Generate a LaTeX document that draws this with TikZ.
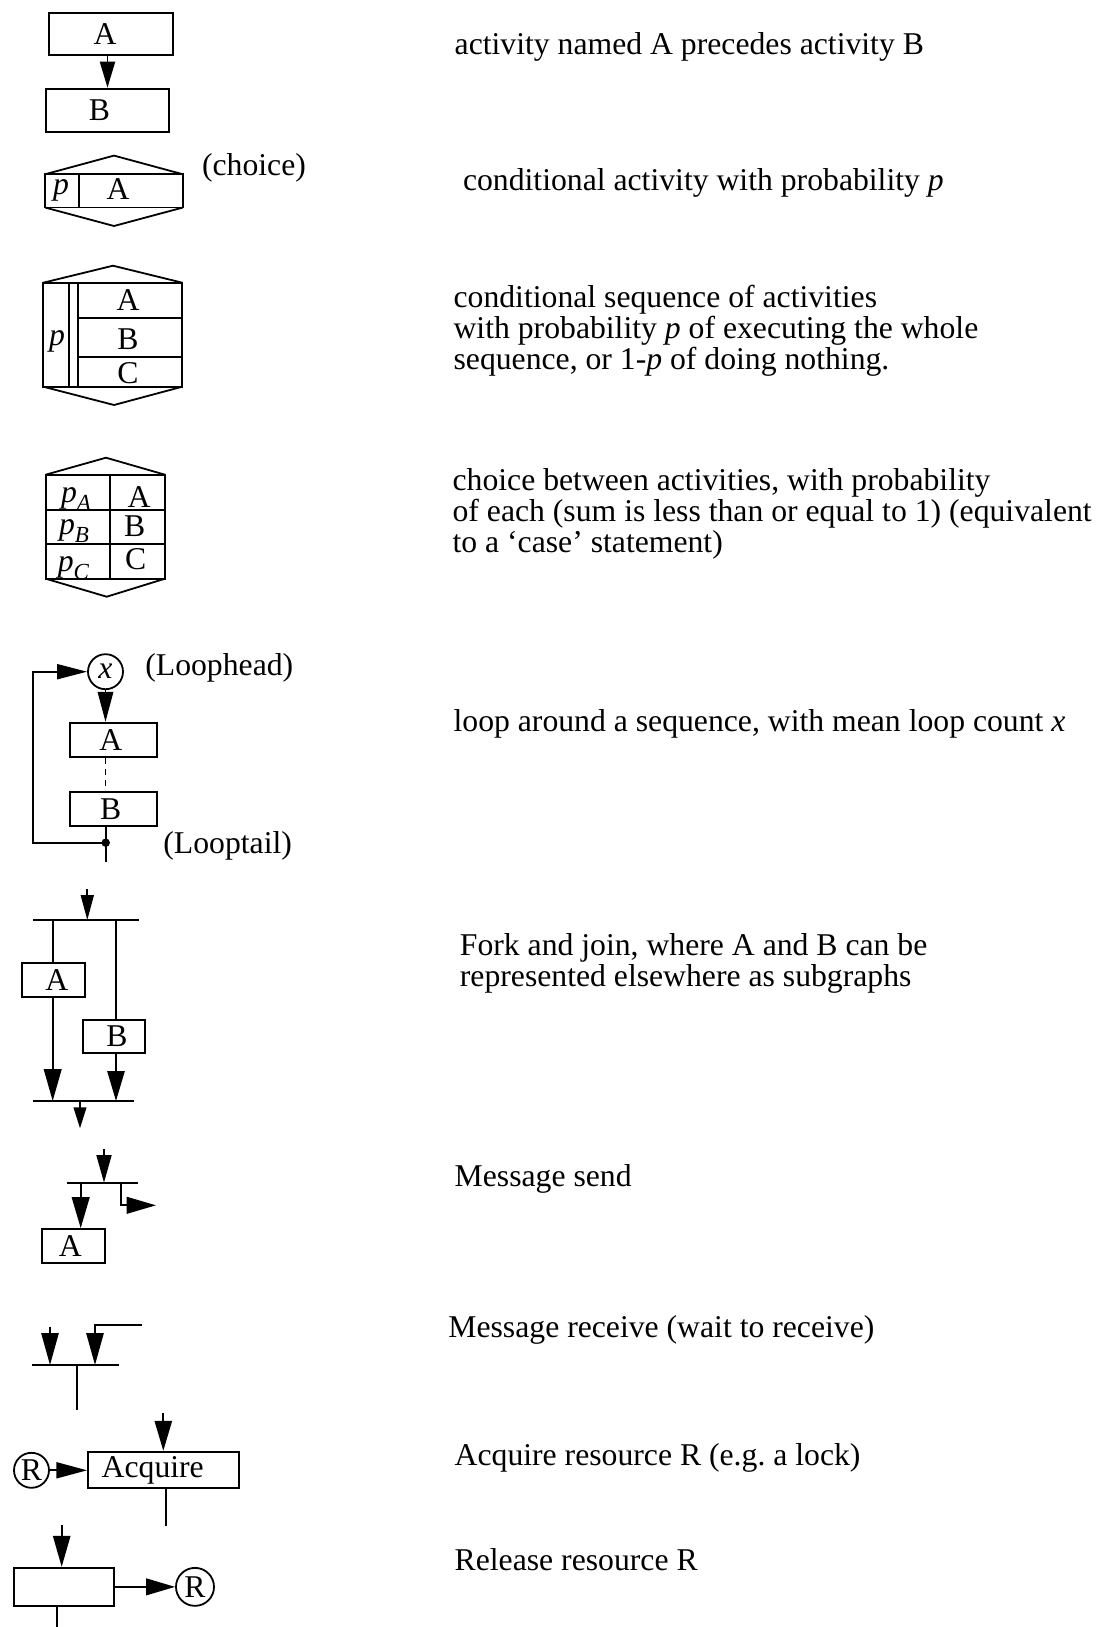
\documentclass[tikz,border=0pt]{standalone}
\usepackage{fontspec}
\setmainfont{Liberation Serif}
\usetikzlibrary{arrows.meta}

\tikzset{
  lw/.style={line width=1.8pt},
  box/.style={draw, rectangle, inner sep=0pt, lw},
  circ/.style={draw, circle, inner sep=0pt, lw, minimum size=#1},
  dot/.style={fill, circle, inner sep=0pt, minimum size=8.5pt},
  ar/.style 2 args={lw, -{Triangle[length=#1pt, width=#2pt]}},
  desc/.style={inner sep=0pt, anchor=base west, align=left},
  lbl/.style={inner sep=0pt},
  % box whose caption sits a little off its centre
  capt/.style 2 args={label={[lbl, xshift=#1pt]center:#2}},
}
\newcommand{\subp}[1]{\textit{p}\raisebox{-8pt}{\fontsize{23}{23}\selectfont\textit{#1}}}

\begin{document}
\begin{tikzpicture}[x=1pt, y=-1pt, font=\fontsize{31.7}{31}\selectfont]
\useasboundingbox (0,0) rectangle (1104,1627);
\fill[white] (0,0) rectangle (1104,1627);

% ---- sequence: A precedes B
\node[box, minimum width=123.4pt, minimum height=42.6pt, capt={-6}{A}] (sA) at (111,34) {};
\node[box, minimum width=123.6pt, minimum height=43.3pt, capt={-8}{B}] (sB) at (107.5,110.3) {};
\draw[ar={26}{15}] (sB.north |- sA.south) -- (sB.north);
\node[desc] (t1) at (454.5,55) {activity named A precedes activity B};

% ---- conditional activity (choice)
\draw[lw] (45,174.3) -- (114,155.6) -- (183,174.3);
\draw[lw] (45,174.3) rectangle (183,207.5);
\draw[lw] (79,174.3) -- (79,207.5);
\draw[lw] (45,207.5) -- (114,226) -- (183,207.5);
\node[lbl] (cp) at (61,190) {\textit{p}};
\node[lbl] (cA) at (118,189) {A};
\node[lbl] (cchoice) at (254,168) {(choice)};
\node[desc] (t2) at (462.8,190.5) {conditional activity with probability \textit{p}};

% ---- conditional sequence
\draw[lw] (43.3,282.7) -- (113,265.7) -- (182.3,282.7);
\draw[lw] (43.3,282.7) rectangle (182.3,386.7);
\draw[lw] (69.3,282.7) -- (69.3,386.7);
\draw[lw] (77.7,282.7) -- (77.7,386.7);
\draw[lw] (77.7,317.7) -- (182.3,317.7);
\draw[lw] (77.7,357.3) -- (182.3,357.3);
\draw[lw] (43.3,386.7) -- (114,405) -- (182.3,386.7);
\node[lbl] (qp) at (57,341.7) {\textit{p}};
\node[lbl] (qA) at (128,300) {A};
\node[lbl] (qB) at (128,339.5) {B};
\node[lbl] (qC) at (128,373.3) {C};
\node[desc] (t3) at (453.4,369.5) {conditional sequence of activities\\
  with probability \textit{p} of executing the whole\\
  sequence, or 1-\textit{p} of doing nothing.};

% ---- choice between activities
\draw[lw] (45.7,474.7) -- (106,457.7) -- (165,474.7);
\draw[lw] (45.7,474.7) rectangle (165,578.7);
\draw[lw] (110,474.7) -- (110,578.7);
\draw[lw] (45.7,509.7) -- (165,509.7);
\draw[lw] (45.7,544) -- (165,544);
\draw[lw] (45.7,578.7) -- (106.7,596.7) -- (165,578.7);
\node[lbl] (kpA) at (76,499) {\subp{A}};
\node[lbl] (kA) at (139,496.7) {A};
\node[lbl] (kpB) at (74,531) {\subp{B}};
\node[lbl] (kB) at (134.7,526) {B};
\node[lbl] (kpC) at (73.5,568.5) {\subp{C}};
\node[lbl] (kC) at (135.7,559) {C};
\node[desc] (t4) at (452.4,552.5) {choice between activities, with probability\\
  of each (sum is less than or equal to 1) (equivalent\\
  to a ‘case’ statement)};

% ---- loop
\node[circ=35pt] (lx) at (105.5,671.7) {\textit{x}};
\node[box, minimum width=86.7pt, minimum height=34pt, capt={-3}{A}] (lA) at (113.7,739.7) {};
\node[box, minimum width=86.7pt, minimum height=34pt, capt={-3}{B}] (lB) at (113.7,808.7) {};
\node[dot] (ltail) at (105.7,842.7) {};
\coordinate (lcorner) at (33.3,842.7);
\coordinate (lend) at (105.7,861.7);
\draw[ar={30}{15.5}] (lx.south) -- (lx.south |- lA.north);
\draw[line width=1pt, dash pattern=on 6pt off 5pt] (ltail |- lA.south) -- (ltail |- lB.north);
\draw[lw] (ltail |- lB.south) -- (lend);
\draw[ar={30}{15}] (ltail.center) -- (lcorner) |- (lx.west);
\node[lbl] (lhead) at (219.3,668) {(Loophead)};
\node[lbl] (ltailtxt) at (227.7,846) {(Looptail)};
\node[desc] (t5) at (453.4,731.5) {loop around a sequence, with mean loop count \textit{x}};

% ---- fork and join
\coordinate (f_in) at (87.3,889);
\coordinate (fTL) at (33.3,920);
\coordinate (fTR) at (139.3,920);
\coordinate (fxA) at (52.7,920);
\coordinate (fxB) at (116,920);
\coordinate (fBL) at (33.3,1101);
\coordinate (fBR) at (134.3,1101);
\coordinate (f_out) at (80,1128.3);
\node[box, minimum width=62.7pt, minimum height=33.4pt, capt={3}{A}] (fA) at (53.7,980) {};
\node[box, minimum width=62.6pt, minimum height=33pt, capt={3}{B}] (fB) at (114,1036.2) {};
\draw[lw] (fTL) -- (fTR);
\draw[ar={25}{13}] (f_in) -- (f_in |- fTL);
\draw[lw] (fxA) -- (fxA |- fA.north);
\draw[ar={32}{17.7}] (fxA |- fA.south) -- (fxA |- fBL);
\draw[lw] (fxB) -- (fxB |- fB.north);
\draw[ar={30}{17.3}] (fxB |- fB.south) -- (fxB |- fBL);
\draw[lw] (fBL) -- (fBR);
\draw[ar={21}{12.7}] (f_out |- fBL) -- (f_out);
\node[desc] (t6) at (459.7,986) {Fork and join, where A and B can be\\
  represented elsewhere as subgraphs};

% ---- message send
\coordinate (ms_in) at (104,1149.3);
\coordinate (msL) at (66.7,1182.7);
\coordinate (msR) at (138,1182.7);
\coordinate (msA) at (80.7,1182.7);
\coordinate (msB) at (120.7,1182.7);
\coordinate (ms_out) at (156,1205.3);
\node[box, minimum width=63.3pt, minimum height=34.3pt, capt={-3}{A}] (mA) at (73.3,1246.2) {};
\draw[lw] (msL) -- (msR);
\draw[ar={27.7}{15}] (ms_in) -- (ms_in |- msL);
\draw[ar={31}{17.7}] (msA) -- (msA |- mA.north);
\draw[ar={29.3}{16.7}] (msB) |- (ms_out);
\node[desc] (t7) at (454.5,1186.5) {Message send};

% ---- message receive
\coordinate (mr_in1) at (50,1326.7);
\coordinate (mr_in2) at (141.7,1325);
\coordinate (mr_k) at (95,1325);
\coordinate (mrL) at (32.3,1365);
\coordinate (mrR) at (119.3,1365);
\coordinate (mr_out) at (77,1410);
\draw[lw] (mrL) -- (mrR);
\draw[ar={32}{17.3}] (mr_in1) -- (mr_in1 |- mrL);
\draw[ar={32}{17.3}] (mr_in2) -- (mr_k) -- (mr_k |- mrL);
\draw[lw] (mr_out |- mrL) -- (mr_out);
\node[desc] (t8) at (448.2,1337.5) {Message receive (wait to receive)};

% ---- acquire resource
\node[circ=35pt] (aR) at (31.5,1470.3) {R};
\node[box, minimum width=150.7pt, minimum height=36.6pt, text width=123.3pt,
      inner xsep=13.7pt, align=left] (acq) at (163.35,1470) {Acquire};
\coordinate (acq_in) at (163.3,1413.3);
\coordinate (acq_out) at (165.7,1526);
\draw[ar={30.7}{16}] (aR.east) -- (aR.east -| acq.west);
\draw[ar={30}{17.3}] (acq_in) -- (acq_in |- acq.north);
\draw[lw] (acq_out |- acq.south) -- (acq_out);
\node[desc] (t9) at (454.5,1465.5) {Acquire resource R (e.g.\ a lock)};

% ---- release resource
\node[box, minimum width=100.3pt, minimum height=38.3pt] (rel) at (64.15,1586.85) {};
\node[circ=38pt] (rR) at (195,1586.85) {R};
\coordinate (rel_in) at (61.7,1525);
\coordinate (rel_out) at (57.3,1627);
\draw[ar={31}{17.3}] (rel_in) -- (rel_in |- rel.north);
\draw[ar={29}{16.7}] (rel.east) -- (rR.west);
\draw[lw] (rel_out |- rel.south) -- (rel_out);
\node[desc] (t10) at (454.5,1570.5) {Release resource R};
\end{tikzpicture}
\end{document}
